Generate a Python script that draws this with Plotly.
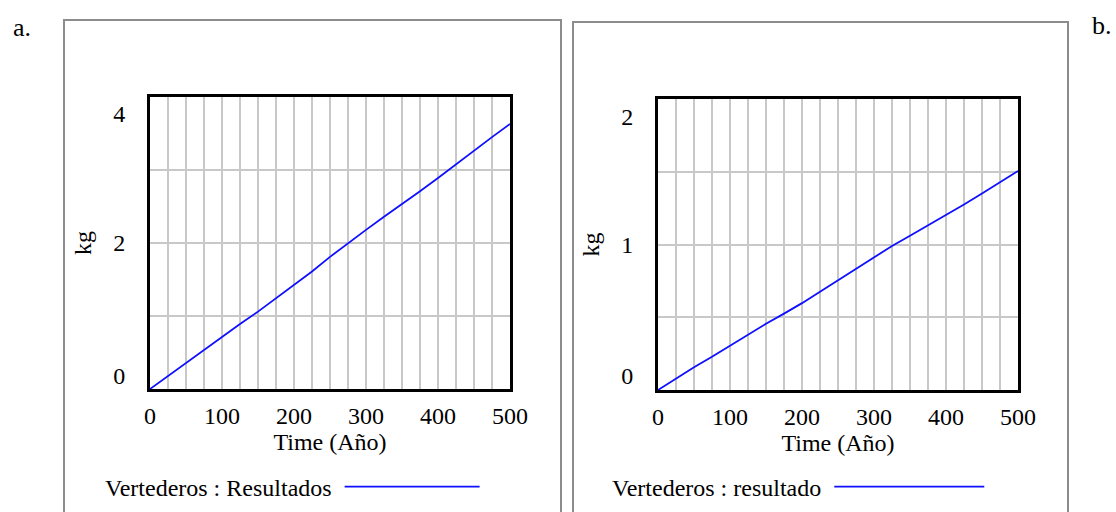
import plotly.graph_objects as go

# ---- data ----
time_a = [0, 25, 50, 75, 100, 125, 150, 175, 200, 225, 250, 275, 300, 325, 350, 375, 400, 425, 450, 475, 500]
resultados_a = [0, 0.18, 0.36, 0.54, 0.72, 0.89, 1.06, 1.24, 1.42, 1.61, 1.81, 2.00, 2.18, 2.36, 2.53, 2.71, 2.89, 3.08, 3.27, 3.45, 3.63]
time_b = [0, 25, 50, 75, 100, 125, 150, 175, 200, 225, 250, 275, 300, 325, 350, 375, 400, 425, 450, 475, 500]
resultado_b = [0, 0.08, 0.156, 0.228, 0.305, 0.38, 0.455, 0.525, 0.597, 0.675, 0.755, 0.835, 0.913, 0.99, 1.06, 1.13, 1.20, 1.275, 1.35, 1.43, 1.505]

x_grid = list(range(0, 501, 25))
x_labels = [str(v) if v % 100 == 0 else "" for v in x_grid]
y_grid_a = [0, 1, 2, 3, 4]
y_grid_b = [0, 0.5, 1, 1.5, 2]
# Vensim draws the end labels inset from the frame corners
y_label_pos_a = [0.19, 2, 3.77]
y_label_txt_a = ["0", "2", "4"]
y_label_pos_b = [0.1, 1, 1.88]
y_label_txt_b = ["0", "1", "2"]

name_a = "Vertederos : Resultados"
name_b = "Vertederos : resultado"
panel_labels = ["a.", "b."]

W, H = 1116, 512
FONT = "Liberation Serif, Times New Roman, serif"
FS = 24
BLUE = "#0f0fff"
GRID = "#c8c8c8"

fig = go.Figure()
fig.add_trace(go.Scatter(x=time_a, y=resultados_a, mode="lines", name="",
                         line=dict(color=BLUE, width=1.8), xaxis="x", yaxis="y",
                         legend="legend"))
fig.add_trace(go.Scatter(x=time_b, y=resultado_b, mode="lines", name="",
                         line=dict(color=BLUE, width=1.8), xaxis="x2", yaxis="y2",
                         legend="legend2"))

def px_x(p):
    return p / W

def px_y(p):
    return 1 - p / H

common_x = dict(range=[0, 500], tickmode="array", tickvals=x_grid, ticktext=x_labels,
                showgrid=True, gridcolor=GRID, gridwidth=1.5, zeroline=False,
                showline=True, linecolor="black", linewidth=3, mirror=True,
                ticks="", ticklabelstandoff=3,
                tickfont=dict(family=FONT, size=FS, color="black"),
                title=dict(text="Time (Año)", font=dict(family=FONT, size=FS, color="black"), standoff=5),
                automargin=False, fixedrange=True)

def y_axis(grid, lpos, ltxt, rng, domain, anchor):
    return dict(range=rng, domain=domain, anchor=anchor, tickmode="array",
                tickvals=lpos, ticktext=ltxt, showgrid=False, zeroline=False,
                minor=dict(tickmode="array", tickvals=grid, showgrid=True,
                           gridcolor=GRID, gridwidth=1.5, ticks=""),
                showline=True, linecolor="black", linewidth=3, mirror=True,
                ticks="", ticklabelstandoff=17,
                tickfont=dict(family=FONT, size=FS, color="black"),
                title=dict(text="kg", font=dict(family=FONT, size=FS, color="black"), standoff=15),
                automargin=False, fixedrange=True)

fig.update_layout(
    width=W, height=H,
    margin=dict(l=0, r=0, t=0, b=0),
    paper_bgcolor="white", plot_bgcolor="white",
    font=dict(family=FONT, size=FS, color="black"),
    xaxis=dict(common_x, domain=[px_x(150), px_x(510)], anchor="y"),
    yaxis=y_axis(y_grid_a, y_label_pos_a, y_label_txt_a, [0, 4], [px_y(389), px_y(97)], "x"),
    xaxis2=dict(common_x, domain=[px_x(658), px_x(1018)], anchor="y2"),
    yaxis2=y_axis(y_grid_b, y_label_pos_b, y_label_txt_b, [0, 2], [px_y(390), px_y(99)], "x2"),
    legend=dict(x=px_x(103), y=px_y(487), xanchor="left", yanchor="middle", itemwidth=135,
                title=dict(text=name_a, side="left", font=dict(family=FONT, size=FS)),
                bgcolor="rgba(0,0,0,0)", font=dict(family=FONT, size=FS)),
    legend2=dict(x=px_x(610), y=px_y(487), xanchor="left", yanchor="middle", itemwidth=150,
                 title=dict(text=name_b, side="left", font=dict(family=FONT, size=FS)),
                 bgcolor="rgba(0,0,0,0)", font=dict(family=FONT, size=FS)),
    showlegend=True,
)

# panel frames
fig.add_shape(type="rect", xref="paper", yref="paper",
              x0=px_x(64), x1=px_x(561), y0=px_y(530), y1=px_y(20),
              line=dict(color="#8c8c8c", width=2), layer="below")
fig.add_shape(type="rect", xref="paper", yref="paper",
              x0=px_x(573), x1=px_x(1068), y0=px_y(530), y1=px_y(22),
              line=dict(color="#8c8c8c", width=2), layer="below")

fig.add_annotation(text=panel_labels[0], xref="paper", yref="paper", x=px_x(22), y=px_y(27),
                   xanchor="center", yanchor="middle",
                   showarrow=False, font=dict(family=FONT, size=26, color="black"))
fig.add_annotation(text=panel_labels[1], xref="paper", yref="paper", x=px_x(1102), y=px_y(25),
                   xanchor="center", yanchor="middle",
                   showarrow=False, font=dict(family=FONT, size=26, color="black"))

fig.write_html("out.html", config={"displayModeBar": False},
               post_script="document.body.style.margin='0';document.body.style.overflow='hidden';")
